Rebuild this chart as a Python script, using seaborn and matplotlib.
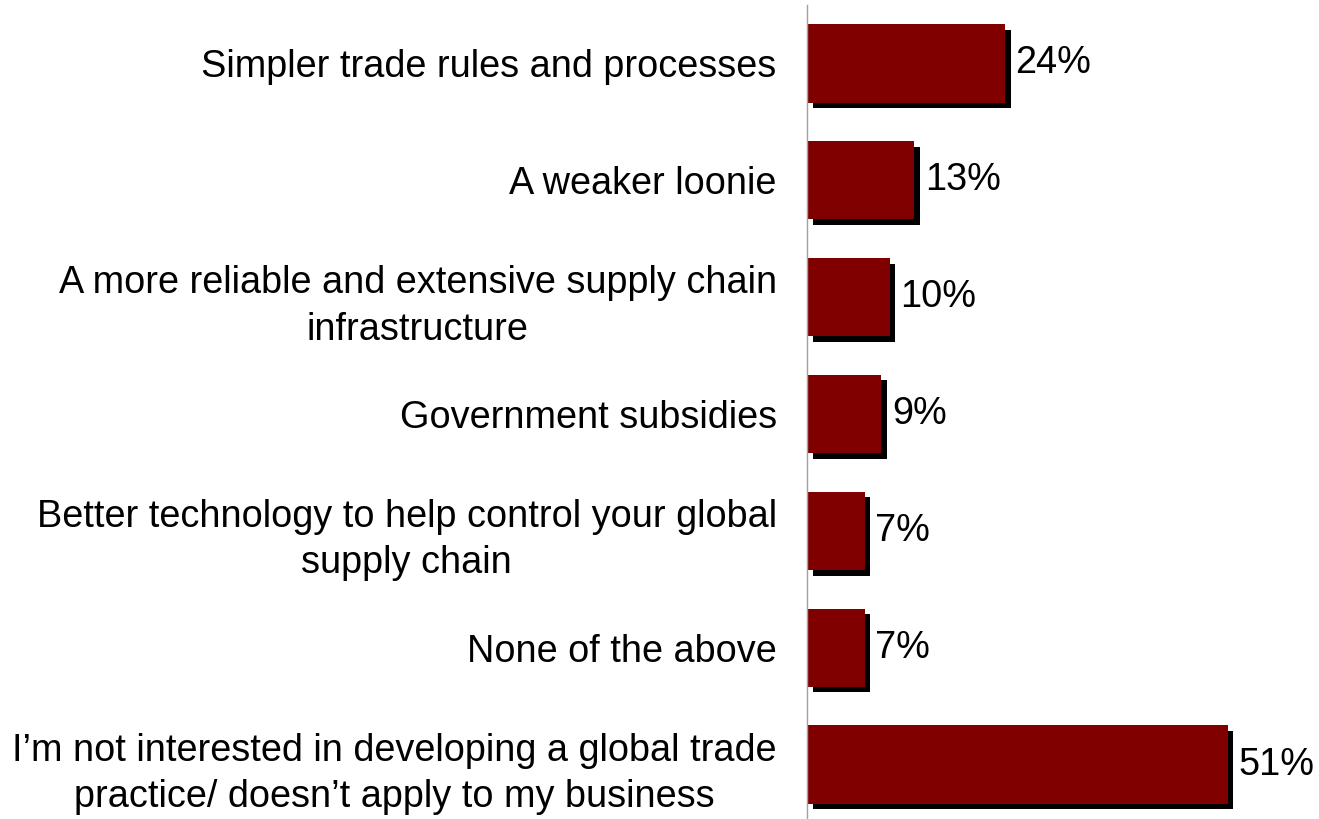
import matplotlib
matplotlib.use("Agg")
import matplotlib.pyplot as plt
import matplotlib.patheffects as pe
import seaborn as sns
import pandas as pd

categories = [
    "Simpler trade rules and processes",
    "A weaker loonie",
    "A more reliable and extensive supply chain\ninfrastructure",
    "Government subsidies",
    "Better technology to help control your global\nsupply chain",
    "None of the above",
    "I\u2019m not interested in developing a global trade\npractice/ doesn\u2019t apply to my business",
]
values = [24, 13, 10, 9, 7, 7, 51]
value_labels = [f"{v}%" for v in values]

df = pd.DataFrame({"category": categories, "value": values})

sns.set_theme(style="white")
plt.rcParams["font.family"] = ["Liberation Sans", "DejaVu Sans"]

FS = 27.3

fig = plt.figure(figsize=(13.19, 8.19), dpi=100)
ax = fig.add_axes([0.612, -0.0049, 0.375, 0.9988])

sns.barplot(data=df, x="value", y="category", orient="h", color="#800000",
            saturation=1, width=0.67, ax=ax)

# drop shadow under each bar
shadow = [pe.SimplePatchShadow(offset=(4, -4), shadow_rgbFace="black", alpha=1.0),
          pe.Normal()]
for patch in ax.patches:
    patch.set_edgecolor("none")
    patch.set_path_effects(shadow)

for patch, lab in zip(ax.patches, value_labels):
    y = patch.get_y() + patch.get_height() / 2
    ax.annotate(lab, (patch.get_width(), y), xytext=(7.5, 0), textcoords="offset points",
                ha="left", va="center", fontsize=FS, color="black")

ax.set_xlim(0, 60)
ax.set_ylim(6.5, -0.5)
ax.set_xlabel("")
ax.set_ylabel("")
ax.set_xticks([])
ax.tick_params(axis="y", length=0, pad=22, labelsize=FS)
for t in ax.get_yticklabels():
    t.set_multialignment("center")
    t.set_linespacing(1.37)
    t.set_color("black")
for side in ["top", "right", "bottom"]:
    ax.spines[side].set_visible(False)
ax.spines["left"].set_color("#a0a0a0")
ax.spines["left"].set_linewidth(1.0)

fig.savefig("out.png", dpi=100, facecolor="white")
